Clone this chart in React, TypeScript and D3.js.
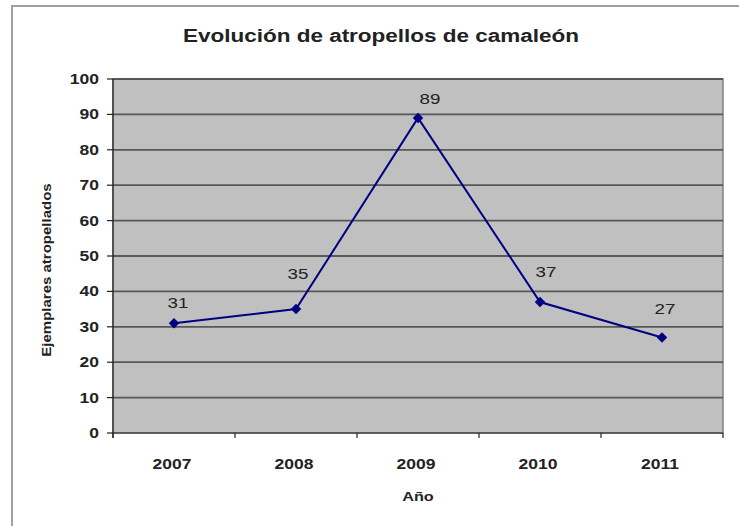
import React from 'react';
import * as d3 from 'd3';

const years = ['2007', '2008', '2009', '2010', '2011'];
const counts = [31, 35, 89, 37, 27];
const yTicks = [0, 10, 20, 30, 40, 50, 60, 70, 80, 90, 100];

// how far each value label sits above / right of its point
const labelLift = [15, 30, 14, 25, 23];
const labelShift = [4, 2, 12, 6, 3];

const W = 739;
const H = 526;
const plot = { left: 113, right: 723, top: 79, bottom: 433 };
const font = 'Arial, "Liberation Sans", sans-serif';
const stretch = 1.25; // the source picture is drawn wide

function Label({ x, y, size, bold, anchor, rotate, children }) {
  const rot = rotate ? ` rotate(${rotate})` : '';
  return (
    <text transform={`translate(${x},${y})${rot} scale(${stretch},1)`} textAnchor={anchor || 'middle'}
          fontFamily={font} fontSize={size} fontWeight={bold ? 'bold' : 'normal'} fill="#222">
      {children}
    </text>
  );
}

export default function App() {
  const x = d3.scaleBand()
    .domain(years)
    .range([plot.left, plot.right]);

  const y = d3.scaleLinear()
    .domain([0, 100])
    .range([plot.bottom, plot.top]);

  const cx = (d) => x(d) + x.bandwidth() / 2;

  const line = d3.line()
    .x((d, i) => cx(years[i]))
    .y((d) => y(d));

  const diamond = d3.symbol().type(d3.symbolDiamond2).size(70)();

  const boundaries = years.map((d) => x(d)).concat([plot.right]);

  return (
    <svg width={W} height={H} style={{ position: 'absolute', left: 0, top: 0, background: '#fff' }}>
      {/* outer chart frame, cut off by the picture on the right and bottom */}
      <rect x={12} y={6} width={W + 20} height={H + 20} fill="#fff" stroke="#a0a0a0" strokeWidth={2} />

      <Label x={381} y={42} size={18} bold>Evolución de atropellos de camaleón</Label>

      <rect x={plot.left} y={plot.top} width={plot.right - plot.left} height={plot.bottom - plot.top}
            fill="#c0c0c0" stroke="#808080" strokeWidth={1.5} />

      {yTicks.map((t) => (
        <g key={t}>
          {t > 0 ? (
            <line x1={plot.left} x2={plot.right} y1={y(t)} y2={y(t)} stroke="#575757" strokeWidth={1.8} />
          ) : null}
          <line x1={plot.left - 6} x2={plot.left} y1={y(t)} y2={y(t)} stroke="#222" strokeWidth={1.2} />
          <Label x={plot.left - 14} y={y(t) + 5} size={14} bold anchor="end">{t}</Label>
        </g>
      ))}

      {/* axes */}
      <line x1={plot.left} x2={plot.left} y1={plot.top} y2={plot.bottom + 5} stroke="#222" strokeWidth={1.2} />
      <line x1={plot.left} x2={plot.right} y1={plot.bottom} y2={plot.bottom} stroke="#222" strokeWidth={1.2} />
      {boundaries.map((b, i) => (
        <line key={i} x1={b} x2={b} y1={plot.bottom} y2={plot.bottom + 5} stroke="#222" strokeWidth={1.2} />
      ))}

      {years.map((yr) => (
        <Label key={yr} x={cx(yr) - 2} y={469} size={14} bold>{yr}</Label>
      ))}

      <path d={line(counts)} fill="none" stroke="#000080" strokeWidth={2} />
      {counts.map((v, i) => (
        <g key={i}>
          <path d={diamond} transform={`translate(${cx(years[i])},${y(v)})`} fill="#000080" />
          <Label x={cx(years[i]) + labelShift[i]} y={y(v) - labelLift[i]} size={15}>{v}</Label>
        </g>
      ))}

      <Label x={418} y={501} size={13} bold>Año</Label>
      <Label x={51} y={270} size={12} bold rotate={-90}>Ejemplares atropellados</Label>
    </svg>
  );
}
